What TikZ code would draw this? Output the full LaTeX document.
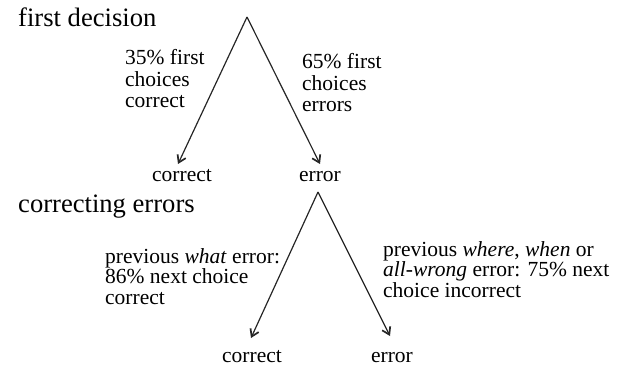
\documentclass[tikz,border=0pt]{standalone}
\usepackage{fontspec}
\setmainfont{Liberation Serif}
\usetikzlibrary{arrows.meta}
\begin{document}
\begin{tikzpicture}[x=1pt,y=1pt,
  txt/.style={font=\fontsize{21.5}{21.5}\selectfont, inner sep=0pt},
  head/.style={font=\fontsize{26.6}{28}\selectfont, inner sep=0pt, anchor=base west},
  lbl/.style={txt, align=left, anchor=base west},
  lblb/.style={font=\fontsize{21.5}{20.3}\selectfont, inner sep=0pt, align=left, anchor=base west},
  arr/.style={-{Straight Barb[length=7pt,width=9pt,line width=1.7pt]}, line width=1.2pt, draw=black!85}]
\useasboundingbox (0,0) rectangle (627,370);
% first decision
\node[head] (h1) at (18,343) {first decision};
\coordinate (top1) at (247,353);
\coordinate (t1l) at (178,206);
\coordinate (t1r) at (320,206);
\node[txt, anchor=base] (c1) at (182,188) {correct};
\node[txt, anchor=base] (e1) at (320,188) {error};
\draw[arr] (top1) -- (t1l);
\draw[arr] (top1) -- (t1r);
\node[lbl] (l1) at (125,262) {35\% first\\choices\\correct};
\node[lbl] (r1) at (302,258) {65\% first\\choices\\errors};
% correcting errors
\node[head] (h2) at (18,157) {correcting errors};
\coordinate (top2) at (318,178);
\coordinate (t2l) at (251,32);
\coordinate (t2r) at (390,34);
\node[txt, anchor=base] (c2) at (252,8) {correct};
\node[txt, anchor=base] (e2) at (392,8) {error};
\draw[arr] (top2) -- (t2l);
\draw[arr] (top2) -- (t2r);
\node[lblb] (l2) at (105,66) {previous \textit{what} error:\\86\% next choice\\correct};
\node[lblb] (r2) at (383,73) {previous \textit{where}, \textit{when} or\\\textit{all-wrong} error: 75\% next\\choice incorrect};
\end{tikzpicture}
\end{document}
